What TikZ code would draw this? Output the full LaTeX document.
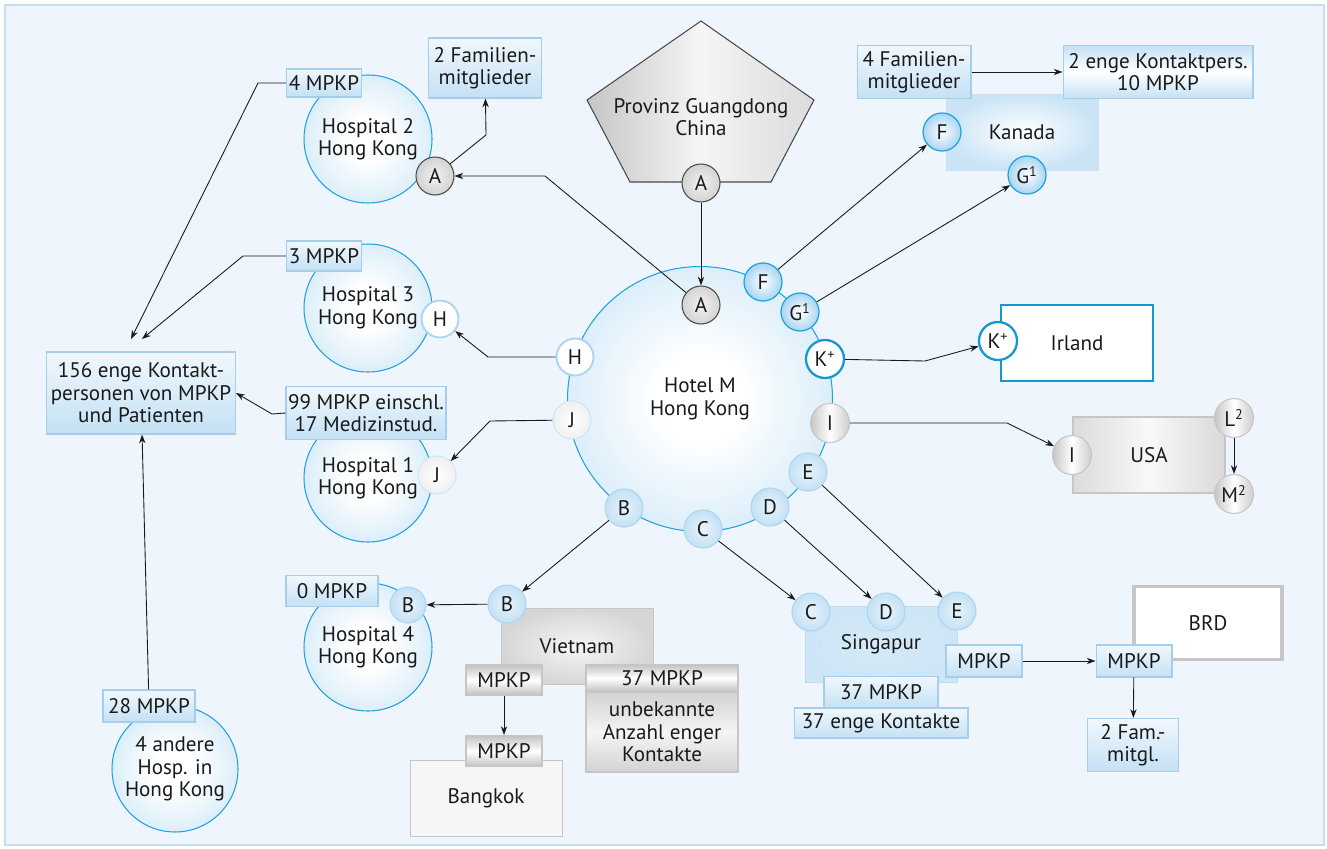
\documentclass[tikz,border=0pt]{standalone}
\usepackage{fontspec}
\setmainfont{PT Sans}
\usepackage{xcolor}
\usepackage{tikz}
\usetikzlibrary{shapes,arrows,arrows.meta,positioning,calc}

\definecolor{panel}{HTML}{EEF5FC}
\definecolor{paneledge}{HTML}{C9DDF0}
\definecolor{ink}{HTML}{1A1A1A}
\definecolor{ballblue}{HTML}{A9D5F2}
\definecolor{ballrim}{HTML}{1FA3DC}
\definecolor{lightrim}{HTML}{ADD5F0}
\definecolor{boxblue}{HTML}{C4E1F5}
\definecolor{boxedge}{HTML}{A6CDEA}
\definecolor{silver}{HTML}{C2C2C2}
\definecolor{silveredge}{HTML}{C6C6C6}
\definecolor{darkrim}{HTML}{4A4A4A}
\definecolor{irishblue}{HTML}{1696D3}

\pgfdeclareradialshading{ballshade}{\pgfpoint{0bp}{0bp}}{color(0bp)=(white); color(8bp)=(white); color(50bp)=(ballblue)}

\begin{document}
\begin{tikzpicture}[x=0.02cm, y=-0.02cm,
    every node/.style={font=\fontsize{12}{12.8}\selectfont, text=ink, align=center},
    hosp/.style={circle, draw=ballrim, line width=0.6pt, shading=ballshade, minimum size=2.56cm, inner sep=0pt},
    lbox/.style={rectangle, draw=boxedge, line width=0.6pt, top color=white!75!boxblue, bottom color=boxblue, inner sep=1pt},
    gbox/.style={rectangle, draw=silveredge, line width=0.6pt, top color=silver, bottom color=silver, middle color=white, inner sep=1pt},
    land/.style={rectangle, minimum width=3.04cm, minimum height=1.52cm, inner sep=1pt},
    bdot/.style={circle, draw=ballrim, line width=0.7pt, inner color=white, outer color=ballblue, minimum size=0.76cm, inner sep=0pt},
    ldot/.style={circle, draw=lightrim, line width=0.6pt, inner color=white!60!boxblue, outer color=boxblue, minimum size=0.76cm, inner sep=0pt},
    wdot/.style={circle, draw=lightrim, line width=1.1pt, fill=white, minimum size=0.74cm, inner sep=0pt},
    kdot/.style={circle, draw=irishblue, line width=1.3pt, fill=white, minimum size=0.76cm, inner sep=0pt},
    jdot/.style={circle, draw=lightrim!60, line width=0.6pt, inner color=white, outer color=gray!12, minimum size=0.76cm, inner sep=0pt},
    gdot/.style={circle, draw=darkrim, line width=0.6pt, inner color=gray!10, outer color=gray!35, minimum size=0.76cm, inner sep=0pt},
    sdot/.style={circle, draw=silveredge, line width=0.6pt, left color=gray!45, right color=gray!40, middle color=white, minimum size=0.78cm, inner sep=0pt},
    arrow/.style={->, >={Stealth[length=5pt, width=3.6pt]}, line width=0.5pt, draw=ink},
    line/.style={line width=0.5pt, draw=ink}
]
    % Panel
    \useasboundingbox (0,0) rectangle (1327,848);
    \fill[panel, draw=paneledge, line width=0.8pt] (5,5) rectangle (1324,845);

    % Provinz Guangdong
    \shade[draw=darkrim, line width=0.6pt, left color=gray!45, right color=gray!28, middle color=gray!8]
        (701,21) -- (814,100) -- (771,182) -- (630,182) -- (587,100) -- cycle;
    \node (prov) at (701,117) {Provinz Guangdong\\China};
    \node[gdot] (pA) at (701,183) {A};

    % Hotel M
    \node[hosp, minimum size=5.3cm] (hotel) at (700,399) {Hotel M\\Hong Kong};
    \node[gdot] (hA) at (701,305) {A};
    \node[bdot] (hF) at (763,282) {F};
    \node[bdot] (hG) at (800,312) {G\textsuperscript{1}};
    \node[kdot] (hK) at (825,359) {K\textsuperscript{+}};
    \node[sdot] (hI) at (830,423) {I};
    \node[ldot] (hE) at (808,472) {E};
    \node[ldot] (hD) at (770,507) {D};
    \node[ldot] (hC) at (703,529) {C};
    \node[ldot] (hB) at (624,508) {B};
    \node[jdot] (hJ) at (572,420) {J};
    \node[wdot] (hH) at (575,357) {H};

    % Hospitals in Hong Kong
    \node[hosp] (hosp2) at (368,139) {Hospital 2\\Hong Kong};
    \node[lbox, minimum width=1.5cm, minimum height=0.56cm] (mpkp4) at (324,83) {4 MPKP};
    \node[gdot] (h2A) at (435,176) {A};
    \node[lbox, minimum width=2.26cm, minimum height=1.2cm] (fam2) at (485,68) {2 Familien-\\mitglieder};

    \node[hosp] (hosp3) at (368,308) {Hospital 3\\Hong Kong};
    \node[lbox, minimum width=1.5cm, minimum height=0.6cm] (mpkp3) at (324,256) {3 MPKP};
    \node[wdot] (h3H) at (440,319) {H};

    \node[hosp] (hosp1) at (368,478) {Hospital 1\\Hong Kong};
    \node[lbox, minimum width=3.2cm, minimum height=1.06cm] (mpkp99) at (366,413) {99 MPKP einschl.\\17 Medizinstud.};
    \node[jdot] (h1J) at (437,475) {J};

    \node[hosp] (hosp4) at (368,647) {Hospital 4\\Hong Kong};
    \node[lbox, minimum width=1.84cm, minimum height=0.62cm] (mpkp0) at (332,591) {0 MPKP};
    \node[ldot, minimum size=0.72cm] (h4B) at (408,605) {B};

    \node[hosp, minimum size=2.52cm] (hosp5) at (175,769) {4 andere\\Hosp. in\\Hong Kong};
    \node[lbox, minimum width=1.84cm, minimum height=0.64cm] (mpkp28) at (149,706) {28 MPKP};

    \node[lbox, minimum width=3.78cm, minimum height=1.64cm] (contacts) at (141,393) {156 enge Kontakt-\\personen von MPKP\\und Patienten};
    \coordinate (in4) at (131,339);
    \coordinate (in3) at (142,339);

    % Vietnam and Bangkok
    \node[land, draw=silveredge, inner color=gray!8, outer color=gray!32] (viet) at (577,646) {Vietnam};
    \node[ldot] (vB) at (507,604) {B};
    \node[gbox, minimum width=1.52cm, minimum height=0.6cm] (vmpkp1) at (504,680) {MPKP};
    \node[gbox, minimum width=3.04cm, minimum height=0.54cm] (v37) at (662,678) {37 MPKP};
    \node[gbox, minimum width=3.04cm, minimum height=1.6cm, top color=gray!35, bottom color=gray!35, middle color=gray!8] (vunk) at (662,732) {unbekannte\\Anzahl enger\\Kontakte};
    \node[land, draw=silveredge, fill=gray!7] (bangkok) at (486,798) {Bangkok};
    \node[gbox, minimum width=1.52cm, minimum height=0.62cm] (vmpkp2) at (504,751) {MPKP};

    % Singapur and BRD
    \node[land, draw=boxedge!70, inner color=white!30!boxblue, outer color=boxblue!85] (sing) at (881,644) {Singapur};
    \node[ldot] (sC) at (811,612) {C};
    \node[ldot] (sD) at (886,612) {D};
    \node[ldot] (sE) at (957,611) {E};
    \node[lbox, minimum width=1.52cm, minimum height=0.64cm] (smpkp) at (984,661) {MPKP};
    \node[lbox, minimum width=2.28cm, minimum height=0.62cm] (s37) at (881,692) {37 MPKP};
    \node[lbox, minimum width=3.48cm, minimum height=0.6cm] (s37k) at (881,723) {37 enge Kontakte};

    \node[land, draw=silveredge, line width=2pt, fill=white, minimum width=2.96cm, minimum height=1.46cm] (brd) at (1208,623) {BRD};
    \node[lbox, minimum width=1.52cm, minimum height=0.64cm] (bmpkp) at (1134,661) {MPKP};
    \node[lbox, minimum width=1.82cm, minimum height=1.06cm] (fam2b) at (1133,745) {2 Fam.-\\mitgl.};

    % USA and Irland
    \node[land, draw=silveredge, line width=1.4pt, left color=gray!28, right color=gray!30, middle color=gray!5] (usa) at (1149,455) {USA};
    \node[sdot] (usaI) at (1072,455) {I};
    \node[sdot] (usaL) at (1234,418) {L\textsuperscript{2}};
    \node[sdot] (usaM) at (1234,494) {M\textsuperscript{2}};

    \node[land, draw=irishblue, line width=1.3pt, fill=white] (irland) at (1077,343) {Irland};
    \node[kdot] (irK) at (998,341) {K\textsuperscript{+}};

    % Kanada
    \node[land, draw=boxedge!60, inner color=white, outer color=boxblue!90] (kanada) at (1022,132) {Kanada};
    \node[lbox, minimum width=2.28cm, minimum height=1.06cm] (fam4) at (914,72) {4 Familien-\\mitglieder};
    \node[lbox, minimum width=3.8cm, minimum height=1.06cm, top color=boxblue, bottom color=boxblue, middle color=white] (kont2) at (1158,72) {2 enge Kontaktpers.\\10 MPKP};
    \node[bdot] (kaF) at (942,132) {F};
    \node[bdot] (kaG) at (1027,175) {G\textsuperscript{1}};

    % Connectors
    \draw[arrow] (pA) -- (hA);
    \draw[arrow] (hA) -- (545,176) -- (h2A);
    \draw[arrow] (h2A) -- (486,135) -- (fam2);
    \draw[arrow] (mpkp4.west) -- (258,83) -- (in4);
    \draw[arrow] (mpkp3.west) -- (243,256) -- (in3);
    \draw[arrow] (hH) -- (488,357) -- (h3H);
    \draw[arrow] (mpkp99.west) -- (272,414) -- (contacts.east);
    \draw[arrow] (hJ) -- (490,421) -- (h1J);
    \draw[arrow] (mpkp28) -- (contacts);
    \draw[arrow] (hB) -- (vB);
    \draw[arrow] (vB) -- (h4B);
    \draw[arrow] (vmpkp1) -- (vmpkp2);
    \draw[arrow] (hC) -- (sC);
    \draw[arrow] (hD) -- (sD);
    \draw[arrow] (hE) -- (sE);
    \draw[arrow] (smpkp) -- (bmpkp);
    \draw[arrow] (bmpkp) -- (fam2b);
    \draw[arrow] (hI) -- (1007,423) -- (usaI);
    \draw[arrow] (usaL) -- (usaM);
    \draw[arrow] (hK) -- (925,361) -- (irK);
    \draw[arrow] (hF) -- (kaF);
    \draw[arrow] (hG) -- (kaG);
    \draw[arrow] (fam4) -- (kont2);
\end{tikzpicture}
\end{document}
